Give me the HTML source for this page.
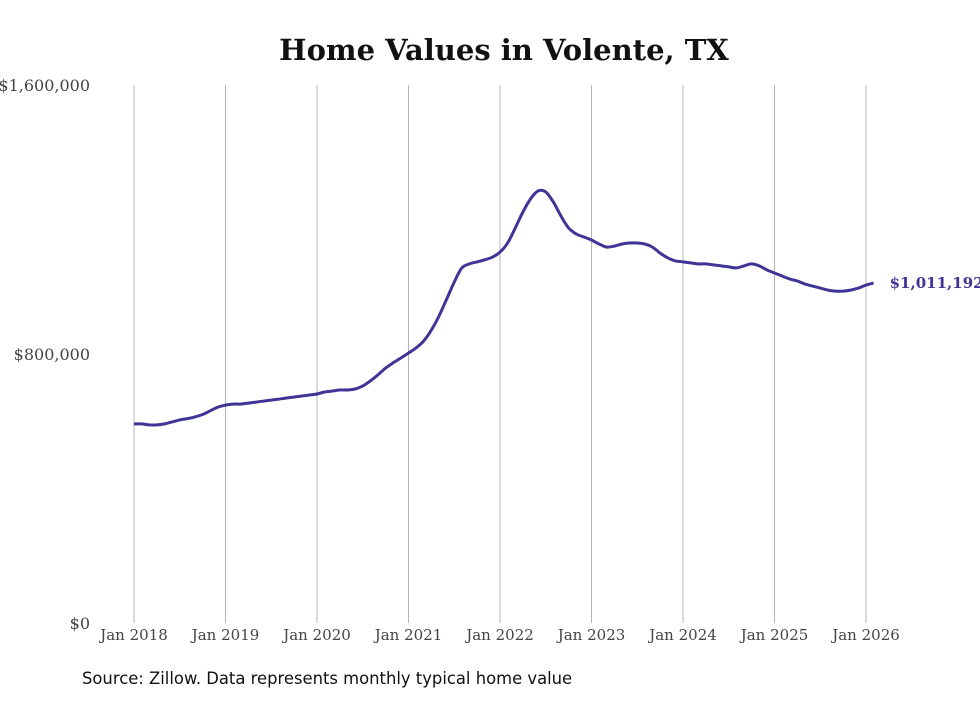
<!DOCTYPE html>
<html><head><meta charset="utf-8"><style>
html,body{margin:0;padding:0;background:#fff;}
body{width:980px;height:699px;overflow:hidden;position:relative;}
</style></head><body>
<svg width="980" height="699" viewBox="0 0 980 699" xmlns="http://www.w3.org/2000/svg">
<text x="504" y="60" text-anchor="middle" font-family="DejaVu Serif, serif" font-weight="bold" font-size="29" fill="#111">Home Values in Volente, TX</text>
<g id="grid"></g><g id="yaxis"></g><g id="xaxis"></g>
<path id="line" fill="none" stroke="#3f3596" stroke-width="3" stroke-linejoin="round"/>
<text id="endlabel" font-family="DejaVu Serif, serif" font-weight="bold" font-size="15" fill="#3f3596"></text>
<text x="82" y="684" font-family="DejaVu Sans, sans-serif" font-size="16.4" fill="#111">Source: Zillow. Data represents monthly typical home value</text>
</svg>
<script>
const yTicks=[0,800000,1600000];
const yTickLabels=["$0","$800,000","$1,600,000"];
const xYears=[2018,2019,2020,2021,2022,2023,2024,2025,2026];
const xTickLabels=["Jan 2018","Jan 2019","Jan 2020","Jan 2021","Jan 2022","Jan 2023","Jan 2024","Jan 2025","Jan 2026"];
const startYear=2018;
const values=[
592,592,589,589,592,598,604,608,613,620,631,642,
648,651,651,654,657,660,663,666,669,672,675,678,
681,687,690,693,693,696,705,720,738,758,774,788,
803,818,839,871,913,963,1014,1056,1068,1074,1080,1088,
1103,1130,1175,1222,1261,1285,1282,1252,1210,1175,1157,1148,
1139,1127,1118,1121,1127,1130,1130,1127,1118,1100,1086,1077,
1074,1071,1068,1068,1065,1062,1059,1056,1062,1068,1062,1050,
1041,1032,1023,1017,1008,1002,996,990,987,987,990,996,
1005,1011.192];
const NS="http://www.w3.org/2000/svg";
function xs(t){return 134+(t-startYear)*91.5;}
function ys(v){return 623-v/1600000*538;}
const grid=document.getElementById('grid'),ya=document.getElementById('yaxis'),xa=document.getElementById('xaxis');
xYears.forEach((yr,i)=>{
 const l=document.createElementNS(NS,'line');
 
 
 l.setAttribute('x1',xs(yr));l.setAttribute('x2',xs(yr));l.setAttribute('y1',85);l.setAttribute('y2',623);
 l.setAttribute('stroke','#b5b5b5');l.setAttribute('stroke-width','1');grid.appendChild(l);
 const t=document.createElementNS(NS,'text');
 
 
 t.setAttribute('x',xs(yr));t.setAttribute('y',640);t.setAttribute('text-anchor','middle');
 t.setAttribute('font-family','DejaVu Serif, serif');t.setAttribute('font-size','15');t.setAttribute('fill','#444');
 t.textContent=xTickLabels[i];xa.appendChild(t);
});
yTicks.forEach((v,i)=>{
 const t=document.createElementNS(NS,'text');
 
 
 t.setAttribute('x',90);t.setAttribute('y',ys(v)+6);t.setAttribute('text-anchor','end');
 t.setAttribute('font-family','DejaVu Serif, serif');t.setAttribute('font-size','16');t.setAttribute('fill','#444');
 t.textContent=yTickLabels[i];ya.appendChild(t);
});
const pts=values.map((v,i)=>[xs(startYear+i/12),ys(v*1000)]);
let d='M'+pts[0][0].toFixed(1)+','+pts[0][1].toFixed(1);
for(let i=0;i<pts.length-1;i++){
 const p0=pts[Math.max(0,i-1)],p1=pts[i],p2=pts[i+1],p3=pts[Math.min(pts.length-1,i+2)];
 const c1=[p1[0]+(p2[0]-p0[0])/6,p1[1]+(p2[1]-p0[1])/6];
 const c2=[p2[0]-(p3[0]-p1[0])/6,p2[1]-(p3[1]-p1[1])/6];
 d+='C'+c1[0].toFixed(1)+','+c1[1].toFixed(1)+' '+c2[0].toFixed(1)+','+c2[1].toFixed(1)+' '+p2[0].toFixed(1)+','+p2[1].toFixed(1);
}
document.getElementById('line').setAttribute('d',d);
const last=values.length-1;
const lab=document.getElementById('endlabel');
lab.setAttribute('x',xs(startYear+last/12)+16);lab.setAttribute('y',ys(values[last]*1000)+5);
lab.textContent='$'+Math.round(values[last]*1000).toLocaleString('en-US');
</script>
</body></html>
